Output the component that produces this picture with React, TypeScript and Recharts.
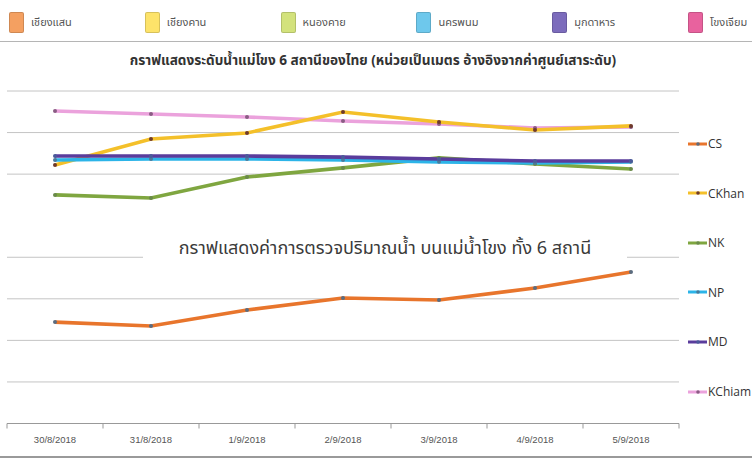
import { LineChart, Line, XAxis, YAxis, CartesianGrid } from "recharts"

const dates = ["30/8/2018", "31/8/2018", "1/9/2018", "2/9/2018", "3/9/2018", "4/9/2018", "5/9/2018"]

// water level per station (m)
const cs = [4.88, 4.69, 5.46, 6.04, 5.94, 6.52, 7.29]
const ckhan = [12.44, 13.69, 13.98, 14.99, 14.51, 14.12, 14.32]
const nk = [11.0, 10.85, 11.86, 12.3, 12.78, 12.49, 12.25]
const np = [12.68, 12.73, 12.73, 12.68, 12.59, 12.54, 12.59]
const md = [12.87, 12.87, 12.87, 12.82, 12.73, 12.63, 12.63]
const kchiam = [15.04, 14.89, 14.75, 14.56, 14.41, 14.22, 14.27]

const yTicks = [0, 2, 4, 6, 8, 12, 14, 16]

const thaiNames = ["เชียงแสน", "เชียงคาน", "หนองคาย", "นครพนม", "มุกดาหาร", "โขงเจียม"]
const codes = ["CS", "CKhan", "NK", "NP", "MD", "KChiam"]

const TOP_SWATCH = ["#f4a061", "#fde36a", "#d3e27c", "#6ec8ec", "#7c6cbc", "#e8629e"]
const LINE_COLORS = ["#e8752c", "#f4c02a", "#7fa640", "#2cb4e8", "#5a3c9c", "#eba2dc"]
const DOT_COLORS = ["#5a6c80", "#6e3a2c", "#6a8a4a", "#4a7a9a", "#4a5a9a", "#8a5c84"]

const data = dates.map((d, i) => ({
  date: d,
  CS: cs[i],
  CKhan: ckhan[i],
  NK: nk[i],
  NP: np[i],
  MD: md[i],
  KChiam: kchiam[i],
}))

const W = 752
const H = 459
const PLOT_LEFT = 7
const PLOT_RIGHT = 679
const PLOT_TOP = 91
const BAND = (PLOT_RIGHT - PLOT_LEFT) / dates.length

const thaiFont = '"Noto Sans Thai", "Noto Sans", Tahoma, "DejaVu Sans", sans-serif'

function DateTick(props: any) {
  const { x, y, payload, index } = props
  const half = BAND / 2
  return (
    <g>
      <line x1={x - half} y1={y} x2={x - half} y2={y + 5} stroke="#999" />
      {index === dates.length - 1 && (
        <line x1={x + half} y1={y} x2={x + half} y2={y + 5} stroke="#999" />
      )}
      <text x={x} y={y + 19} textAnchor="middle" fontSize={9.5} fill="#555" fontFamily="Liberation Sans, Arial, sans-serif">
        {payload.value}
      </text>
    </g>
  )
}

export default function App() {
  // draw order: later lines sit on top
  const order = [5, 1, 2, 3, 4, 0]
  return (
    <div style={{ position: "relative", width: W, height: H, background: "#fff", overflow: "hidden" }}>
      <style>{`body{margin:0}`}</style>

      {/* top legend */}
      {thaiNames.map((n, i) => (
        <div
          key={n}
          style={{
            position: "absolute",
            left: 9 + i * 135.8,
            top: 12,
            display: "flex",
            alignItems: "center",
            fontFamily: thaiFont,
            fontSize: 11,
            color: "#555",
          }}
        >
          <span
            style={{
              display: "inline-block",
              width: 13,
              height: 19,
              background: TOP_SWATCH[i],
              border: "1px solid rgba(0,0,0,0.15)",
              borderRadius: 2,
              marginRight: 7,
            }}
          />
          {n}
        </div>
      ))}
      <div style={{ position: "absolute", left: 0, top: 41, width: W, height: 1, background: "#b5b5b5" }} />

      <div
        style={{
          position: "absolute",
          left: 0,
          top: 51,
          width: 746,
          textAlign: "center",
          fontFamily: thaiFont,
          fontWeight: "bold",
          fontSize: 13.6,
          color: "#333",
        }}
      >
        กราฟแสดงระดับน้ำแม่โขง 6 สถานีของไทย (หน่วยเป็นเมตร อ้างอิงจากค่าศูนย์เสาระดับ)
      </div>

      <div style={{ position: "absolute", left: 0, top: 0 }}>
        <LineChart
          width={W}
          height={H}
          data={data}
          margin={{ top: PLOT_TOP, right: W - PLOT_RIGHT, left: PLOT_LEFT, bottom: 5 }}
        >
          <CartesianGrid vertical={false} stroke="#c4c4c4" strokeWidth={1} horizontalValues={yTicks} />
          <XAxis
            dataKey="date"
            scale="band"
            height={30.5}
            tickLine={false}
            tickSize={0}
            tickMargin={0}
            stroke="#999"
            tick={<DateTick />}
            interval={0}
          />
          <YAxis
            width={0}
            domain={[0, 16]}
            ticks={yTicks}
            tick={{ fontSize: 0 }}
            tickFormatter={() => ""}
            tickLine={false}
            stroke="#999"
          />
          {order.map((i) => (
            <Line
              key={codes[i]}
              type="linear"
              dataKey={codes[i]}
              stroke={LINE_COLORS[i]}
              strokeWidth={3.6}
              dot={{ r: 2, fill: DOT_COLORS[i], stroke: "none" }}
              isAnimationActive={false}
            />
          ))}
        </LineChart>
      </div>

      {/* note box over the plot */}
      <div
        style={{
          position: "absolute",
          left: 143,
          top: 235,
          width: 484,
          height: 31,
          background: "#fff",
          textAlign: "center",
          fontFamily: thaiFont,
          fontSize: 18,
          color: "#3a3a3a",
          lineHeight: "27px",
        }}
      >
        กราฟแสดงค่าการตรวจปริมาณน้ำ บนแม่น้ำโขง ทั้ง 6 สถานี
      </div>

      {/* right legend */}
      {codes.map((c, i) => (
        <div
          key={c}
          style={{
            position: "absolute",
            left: 688,
            top: 135 + i * 49.6,
            display: "flex",
            alignItems: "center",
            fontFamily: '"Open Sans", "Noto Sans", sans-serif',
            fontSize: 12,
            color: "#333",
          }}
        >
          <svg width={19} height={8} style={{ marginRight: 1 }}>
            <line x1={0} y1={4} x2={19} y2={4} stroke={LINE_COLORS[i]} strokeWidth={3} />
            <circle cx={10} cy={4} r={1.8} fill={DOT_COLORS[i]} />
          </svg>
          {c}
        </div>
      ))}

      <div style={{ position: "absolute", left: 0, top: 456, width: W, height: 2, background: "#9a9a9a" }} />
    </div>
  )
}
